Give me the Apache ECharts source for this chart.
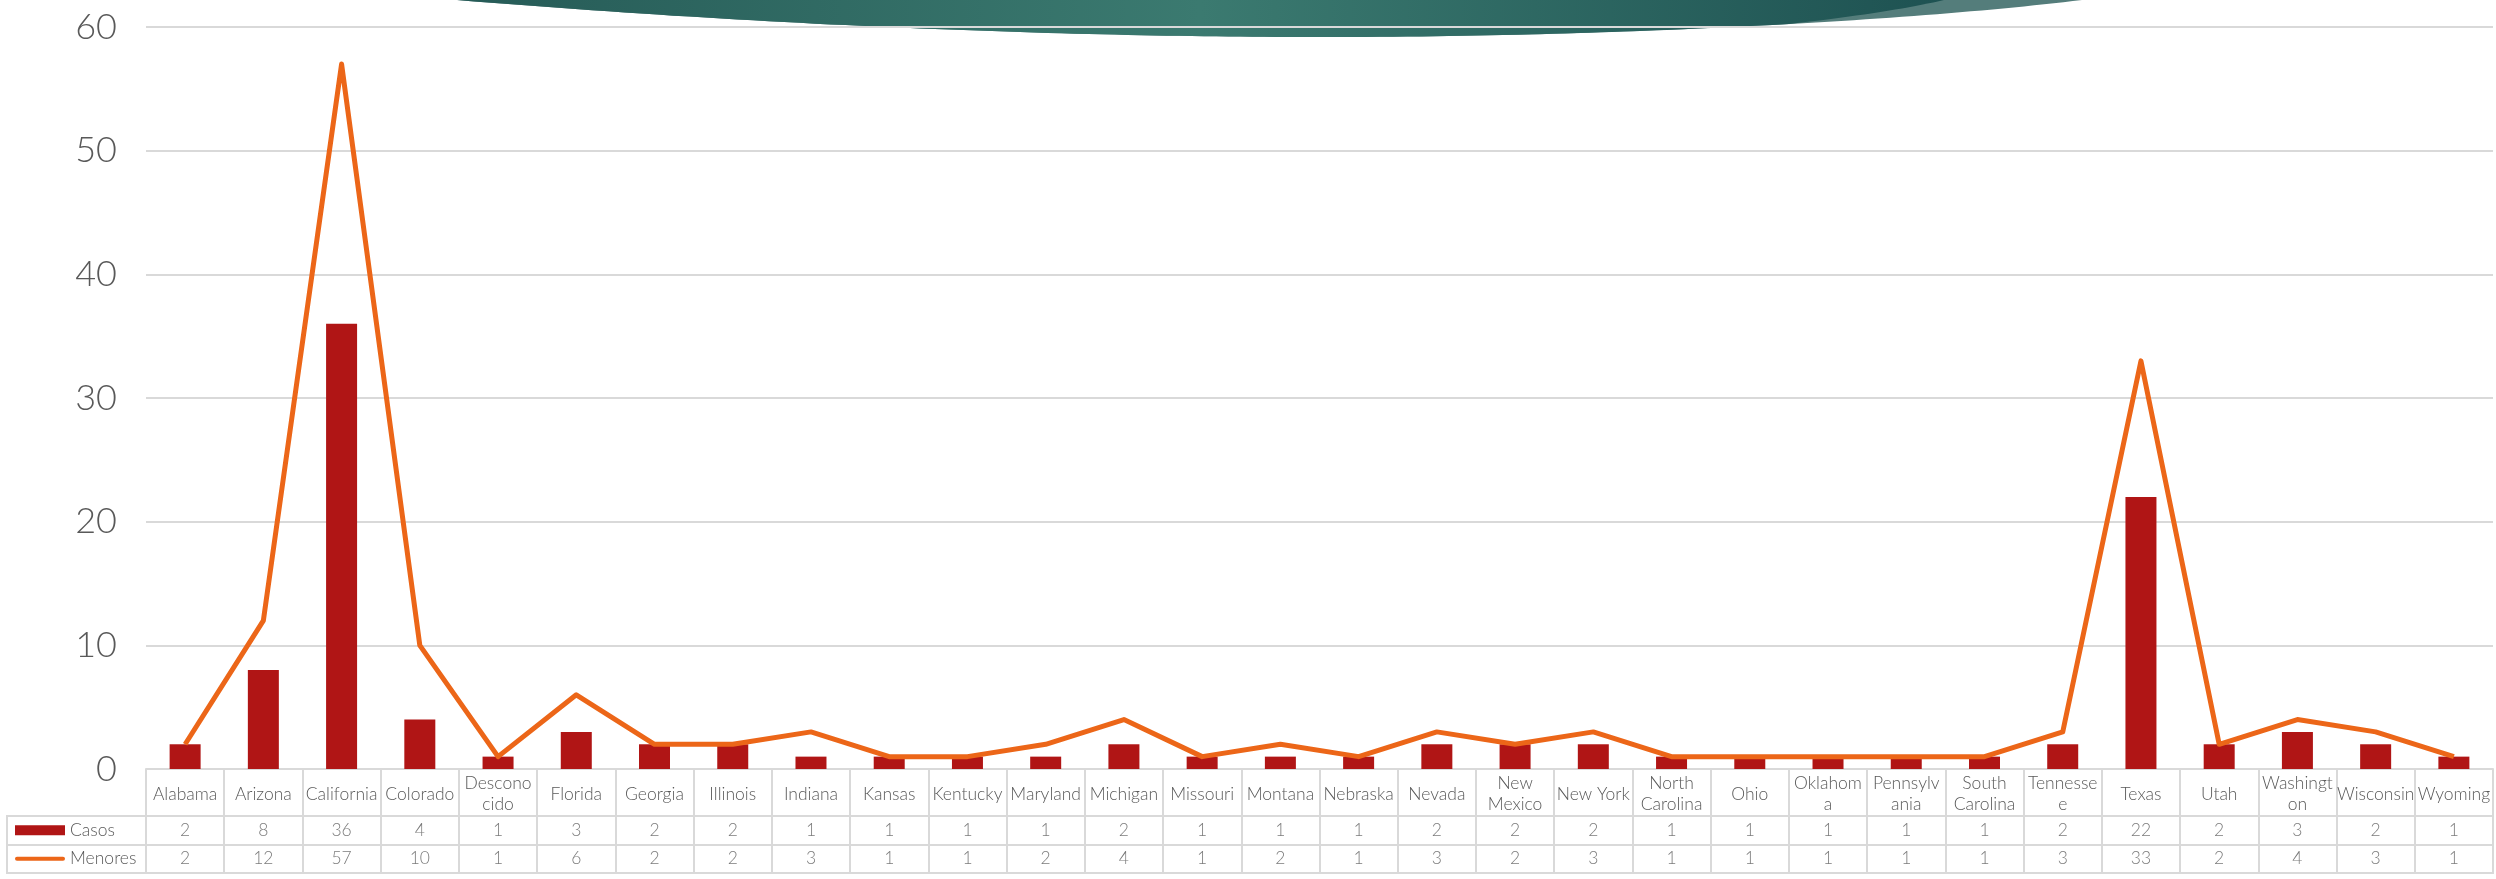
<!DOCTYPE html>
<html>
<head>
<meta charset="utf-8">
<script src="https://cdn.jsdelivr.net/npm/echarts@6/dist/echarts.min.js"></script>
<style>
html,body{margin:0;padding:0;background:#fff;}
#c{width:2496px;height:879px;}
</style>
</head>
<body>
<div id="c"></div>
<script>
const categories = ['Alabama','Arizona','California','Colorado','Desconocido','Florida','Georgia','Illinois','Indiana','Kansas','Kentucky','Maryland','Michigan','Missouri','Montana','Nebraska','Nevada','New Mexico','New York','North Carolina','Ohio','Oklahoma','Pennsylvania','South Carolina','Tennessee','Texas','Utah','Washington','Wisconsin','Wyoming'];
const casos   = [2,8,36,4,1,3,2,2,1,1,1,1,2,1,1,1,2,2,2,1,1,1,1,1,2,22,2,3,2,1];
const menores = [2,12,57,10,1,6,2,2,3,1,1,2,4,1,2,1,3,2,3,1,1,1,1,1,3,33,2,4,3,1];
const yTicks = [0,10,20,30,40,50,60];
const seriesNames = ['Casos','Menores'];
// how the labels wrap in the table cells of the original
const wrapped = {
  'Desconocido':'Descono\ncido','New Mexico':'New\nMexico','North Carolina':'North\nCarolina',
  'Oklahoma':'Oklahom\na','Pennsylvania':'Pennsylv\nania','South Carolina':'South\nCarolina',
  'Tennessee':'Tennesse\ne','Washington':'Washingt\non'
};

const RED = '#B01515', ORANGE = '#EC6618', GRID = '#D9D9D9', TXT = '#595959';
const FONT = 'Lato';

// decorative banner outline (cubic bezier segments sampled into polygon points)
function bez(p0,p1,p2,p3,n){
  const out=[];
  for(let i=0;i<=n;i++){const t=i/n,u=1-t;
    out.push([u*u*u*p0[0]+3*u*u*t*p1[0]+3*u*t*t*p2[0]+t*t*t*p3[0],
              u*u*u*p0[1]+3*u*u*t*p1[1]+3*u*t*t*p2[1]+t*t*t*p3[1]]);}
  return out;
}
const outer = bez([457,0],[800,28],[1100,37],[1321,37],60).concat(bez([1321,37],[1600,37],[1900,22],[2082,0],60));
const inner = bez([457,0],[800,28],[1100,37],[1321,37],60).concat(bez([1321,37],[1520,37],[1680,30],[1789,24],40)).concat(bez([1789,24],[1860,16],[1910,8],[1944,0],20));

const tableData = [];
casos.forEach((v,i)=>tableData.push([i,0,v]));
menores.forEach((v,i)=>tableData.push([i,1,v]));

const chart = echarts.init(document.getElementById('c'));
chart.setOption({
  animation:false,
  backgroundColor:'#fff',
  graphic:[
    {type:'polygon', z:-10, silent:true, shape:{points:outer}, style:{fill:'#547D7B'}},
    {type:'polygon', z:-9, silent:true, shape:{points:inner},
     style:{fill:{type:'linear',x:0,y:0,x2:1,y2:0,colorStops:[
       {offset:0,color:'#265B57'},{offset:0.5,color:'#3B7A70'},{offset:1,color:'#1E5252'}]}}},
    {type:'rect', silent:true, shape:{x:7,y:816,width:139,height:57},
     style:{fill:'none',stroke:GRID,lineWidth:2}},
    {type:'line', silent:true, shape:{x1:7,y1:845,x2:146,y2:845},
     style:{stroke:GRID,lineWidth:2}}
  ],
  grid:[
    {left:146,right:3,top:27,height:742},
    {left:146,right:3,top:816,height:57,show:true,borderColor:GRID,borderWidth:2}
  ],
  xAxis:[
    {type:'category',gridIndex:0,data:categories,
     axisLine:{show:true,lineStyle:{color:GRID,width:2}},
     axisTick:{show:true,length:47,interval:0,lineStyle:{color:GRID,width:2}},
     axisLabel:{interval:0,margin:25,verticalAlign:'middle',fontSize:17.5,lineHeight:21,
       fontWeight:300,color:TXT,fontFamily:FONT,formatter:v=>wrapped[v]||v}},
    {type:'category',gridIndex:1,data:categories,
     axisLine:{show:false},axisTick:{show:false},axisLabel:{show:false},
     splitLine:{show:true,interval:0,lineStyle:{color:GRID,width:2}}}
  ],
  yAxis:[
    {type:'value',gridIndex:0,min:0,max:60,interval:10,
     axisLine:{show:false},axisTick:{show:false},
     axisLabel:{fontSize:36,fontWeight:300,color:TXT,fontFamily:FONT,margin:29,
       formatter:v=>yTicks.includes(v)?String(v):''},
     splitLine:{lineStyle:{color:GRID,width:2}}},
    {type:'category',gridIndex:1,data:seriesNames,inverse:true,
     axisLine:{show:false},axisTick:{show:false},
     splitLine:{show:true,interval:0,lineStyle:{color:GRID,width:2}},
     axisLabel:{align:'left',margin:131,fontFamily:FONT,color:TXT,fontSize:17.5,
       formatter:v=>v==='Casos'?'{k|}{t|'+v+'}':'{l|}{t|'+v+'}',
       rich:{
         k:{width:50,height:10,backgroundColor:RED},
         l:{width:50,height:4,backgroundColor:ORANGE,borderRadius:2},
         t:{fontSize:17.5,fontWeight:300,color:TXT,fontFamily:FONT,padding:[0,0,0,5]}
       }}}
  ],
  series:[
    {name:'Casos',type:'bar',xAxisIndex:0,yAxisIndex:0,data:casos,barWidth:31,
     itemStyle:{color:RED}},
    {name:'Menores',type:'line',xAxisIndex:0,yAxisIndex:0,data:menores,
     symbol:'none',lineStyle:{color:ORANGE,width:5,join:'round'},z:3},
    {type:'scatter',xAxisIndex:1,yAxisIndex:1,data:tableData,symbolSize:1,
     itemStyle:{color:'rgba(0,0,0,0)'},
     label:{show:true,position:'inside',formatter:p=>String(p.value[2]),
       fontSize:17.5,fontWeight:300,color:TXT,fontFamily:FONT}}
  ]
});
</script>
</body>
</html>
